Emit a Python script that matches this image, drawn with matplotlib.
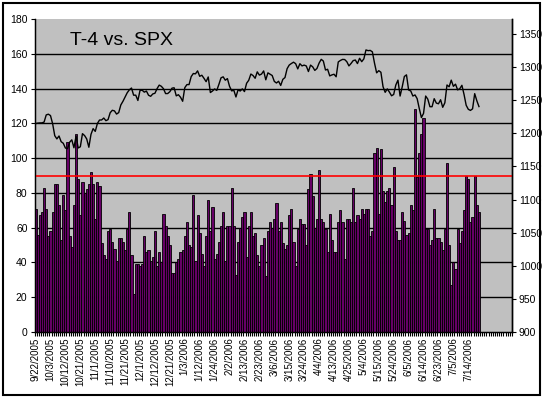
import matplotlib
matplotlib.use('Agg')
import matplotlib.pyplot as plt
from matplotlib.patches import Rectangle
from matplotlib.ticker import FixedLocator

plt.rcParams['font.family'] = ['Liberation Sans', 'DejaVu Sans']

# T-4 reading, one bar per trading day (9/22/2005 .. 7/21/2006)
t4 = [71, 56, 67, 69, 83, 71, 55, 58, 69, 85, 85, 73, 53, 79, 70, 109, 55, 49, 73, 114,
      88, 67, 86, 80, 82, 85, 92, 85, 65, 86, 84,
      51, 44, 42, 58, 59, 52, 48, 41, 54, 54, 52, 47, 59, 69, 44,
      22, 39, 39, 38, 39, 55, 46, 47, 41, 43, 58, 38, 46, 40, 68, 61, 55, 50, 34, 34,
      40, 42, 46, 47, 55, 63, 50, 49,
      79, 41, 67, 57, 45, 38, 55,
      76, 58, 72, 42, 45, 52, 61, 69, 41, 61, 61,
      83, 61, 33, 52, 60, 66, 69, 43, 61, 69, 55, 57, 44, 38, 50, 54, 32, 58, 63,
      60, 65, 74, 58, 63, 51, 48, 50, 67, 71, 52, 38, 59, 65, 62, 62, 50, 82, 91, 78,
      60, 65, 93, 65, 63, 59, 46, 68, 53, 46, 46, 63, 70, 63, 42, 65, 65, 63,
      83, 63, 67, 65, 71, 68, 71, 71, 55, 58,
      103, 106, 68, 105, 81, 75, 81, 83, 73, 95, 58, 53, 53, 69, 64, 56, 57, 73, 70,
      128, 89, 103, 114, 123,
      59, 59, 50, 53, 71, 54, 54, 52, 47, 59,
      97, 50, 27, 40, 36, 59, 51, 58, 70, 90, 88, 63, 66, 90, 73, 69]

# SPX daily close, same days
spx_sep = [1214.6, 1215.3, 1215.6, 1215.7, 1216.9, 1227.7, 1228.8]
spx_oct = [1226.7, 1214.5, 1196.4, 1191.5, 1195.9, 1187.3, 1184.9, 1177.7, 1176.8, 1186.6,
           1190.1, 1178.1, 1195.8, 1177.8, 1179.6, 1199.4, 1196.5, 1191.4, 1178.9, 1198.4, 1207.0]
spx_nov = [1202.8, 1214.8, 1220.0, 1220.1, 1223.0, 1219.0, 1220.6, 1231.0, 1234.7, 1233.8,
           1229.0, 1231.2, 1242.8, 1248.3, 1254.9, 1261.2, 1265.6, 1268.3, 1257.5, 1257.5, 1249.5]
spx_dec = [1264.7, 1265.0, 1262.1, 1263.7, 1257.4, 1255.8, 1259.4, 1260.4, 1267.4, 1272.7,
           1270.9, 1267.3, 1259.9, 1260.0, 1262.8, 1268.1, 1268.7, 1256.5, 1258.2, 1254.4, 1248.3]
spx_jan = [1268.8, 1273.5, 1273.5, 1285.5, 1290.2, 1289.7, 1294.2, 1286.0, 1287.6, 1283.0,
           1277.9, 1285.0, 1261.5, 1263.8, 1266.9, 1264.7, 1273.8, 1283.7, 1285.2, 1280.1]
spx_feb = [1282.5, 1270.8, 1264.0, 1265.0, 1254.8, 1265.7, 1263.8, 1267.0, 1262.9, 1275.5,
           1280.0, 1289.4, 1287.2, 1283.0, 1292.7, 1287.8, 1289.4, 1294.1, 1280.7]
spx_mar = [1291.2, 1289.1, 1287.2, 1278.3, 1275.9, 1278.5, 1272.2, 1281.4, 1284.1, 1297.5,
           1303.0, 1305.3, 1307.3, 1305.1, 1297.2, 1305.0, 1301.7, 1302.9, 1301.6, 1293.2,
           1302.9, 1300.3, 1294.9]
spx_apr = [1297.8, 1305.9, 1311.6, 1309.0, 1295.5, 1296.6, 1286.6, 1288.1, 1289.1, 1285.3,
           1307.7, 1309.9, 1311.5, 1311.3, 1308.1, 1301.7, 1305.4, 1309.7, 1310.6]
spx_may = [1305.2, 1313.2, 1308.1, 1312.3, 1325.8, 1324.7, 1325.1, 1322.9, 1305.9, 1291.2,
           1294.5, 1292.1, 1270.3, 1261.8, 1267.0, 1262.1, 1256.6, 1258.6, 1272.9, 1280.2,
           1256.2, 1270.1]
spx_jun = [1285.7, 1288.2, 1265.3, 1263.9, 1256.2, 1257.9, 1252.3, 1237.4, 1223.7, 1230.0,
           1256.2, 1251.5, 1240.1, 1240.1, 1252.2, 1245.6, 1244.5, 1250.6, 1239.2, 1246.0,
           1272.9, 1270.2]
spx_jul = [1280.2, 1270.9, 1274.1, 1265.5, 1267.3, 1272.4, 1258.6, 1242.3, 1236.2, 1234.5,
           1236.9, 1259.8, 1249.1, 1240.3]
spx = (spx_sep + spx_oct + spx_nov + spx_dec + spx_jan + spx_feb + spx_mar
       + spx_apr + spx_may + spx_jun + spx_jul)

# every 7th trading day gets a label
date_labels = ['9/22/2005', '10/3/2005', '10/12/2005', '10/21/2005', '11/1/2005',
               '11/10/2005', '11/21/2005', '12/1/2005', '12/12/2005', '12/21/2005',
               '1/3/2006', '1/12/2006', '1/24/2006', '2/2/2006', '2/13/2006', '2/23/2006',
               '3/6/2006', '3/15/2006', '3/24/2006', '4/4/2006', '4/13/2006', '4/25/2006',
               '5/4/2006', '5/15/2006', '5/24/2006', '6/5/2006', '6/14/2006', '6/23/2006',
               '7/5/2006', '7/14/2006']
label_step = 7
n_categories = 224
threshold = 90

fig = plt.figure(figsize=(5.46, 4.0), dpi=100)
fig.patch.set_facecolor('white')
ax = fig.add_axes([34.5 / 546, 1 - 332 / 400, (512 - 34.5) / 546, (332 - 19) / 400])
ax.set_facecolor('#c0c0c0')

x = list(range(len(t4)))
ax.bar(x, t4, width=1.0, color='#660066', edgecolor='black', linewidth=0.6, zorder=2)
ax.axhline(threshold, color='red', linewidth=1.2, zorder=4)

ax.set_xlim(-0.5, n_categories - 0.5)
ax.set_ylim(0, 180)
ax.set_yticks(range(0, 181, 20))
ax.set_axisbelow(True)
ax.yaxis.grid(True, color='black', linewidth=1.0)
ax.get_ygridlines()[-1].set_visible(False)
ax.get_ygridlines()[0].set_visible(False)

ax.set_xticks([i * label_step for i in range(len(date_labels))])
ax.set_xticklabels(date_labels, rotation=90, fontsize=7)
ax.xaxis.set_minor_locator(FixedLocator([i - 0.5 for i in range(n_categories + 1)]))
ax.tick_params(axis='x', which='major', length=0, pad=4)
ax.tick_params(axis='x', which='minor', length=3, width=0.8, direction='out')
ax.tick_params(axis='y', labelsize=7.5, length=3, width=0.8, pad=2)
ax.spines['top'].set_visible(False)
for s in ['left', 'bottom', 'right']:
    ax.spines[s].set_linewidth(1.0)

ax.text(0.075, 0.93, 'T-4 vs. SPX', transform=ax.transAxes, fontsize=14,
        ha='left', va='center', zorder=6)

ax2 = ax.twinx()
ax2.plot(x, spx, color='black', linewidth=1.0, zorder=5)
ax2.set_ylim(900, 1372.5)
ax2.set_yticks(range(900, 1351, 50))
ax2.tick_params(axis='y', labelsize=7.5, length=3, width=0.8, pad=2)
ax2.spines['top'].set_visible(False)
ax2.spines['right'].set_linewidth(1.0)

fig.patches.append(Rectangle((3 / 546, 5 / 400), 537 / 546, 392 / 400, transform=fig.transFigure,
                             fill=False, edgecolor='black', linewidth=1.5))

fig.savefig('out.png', dpi=100)
